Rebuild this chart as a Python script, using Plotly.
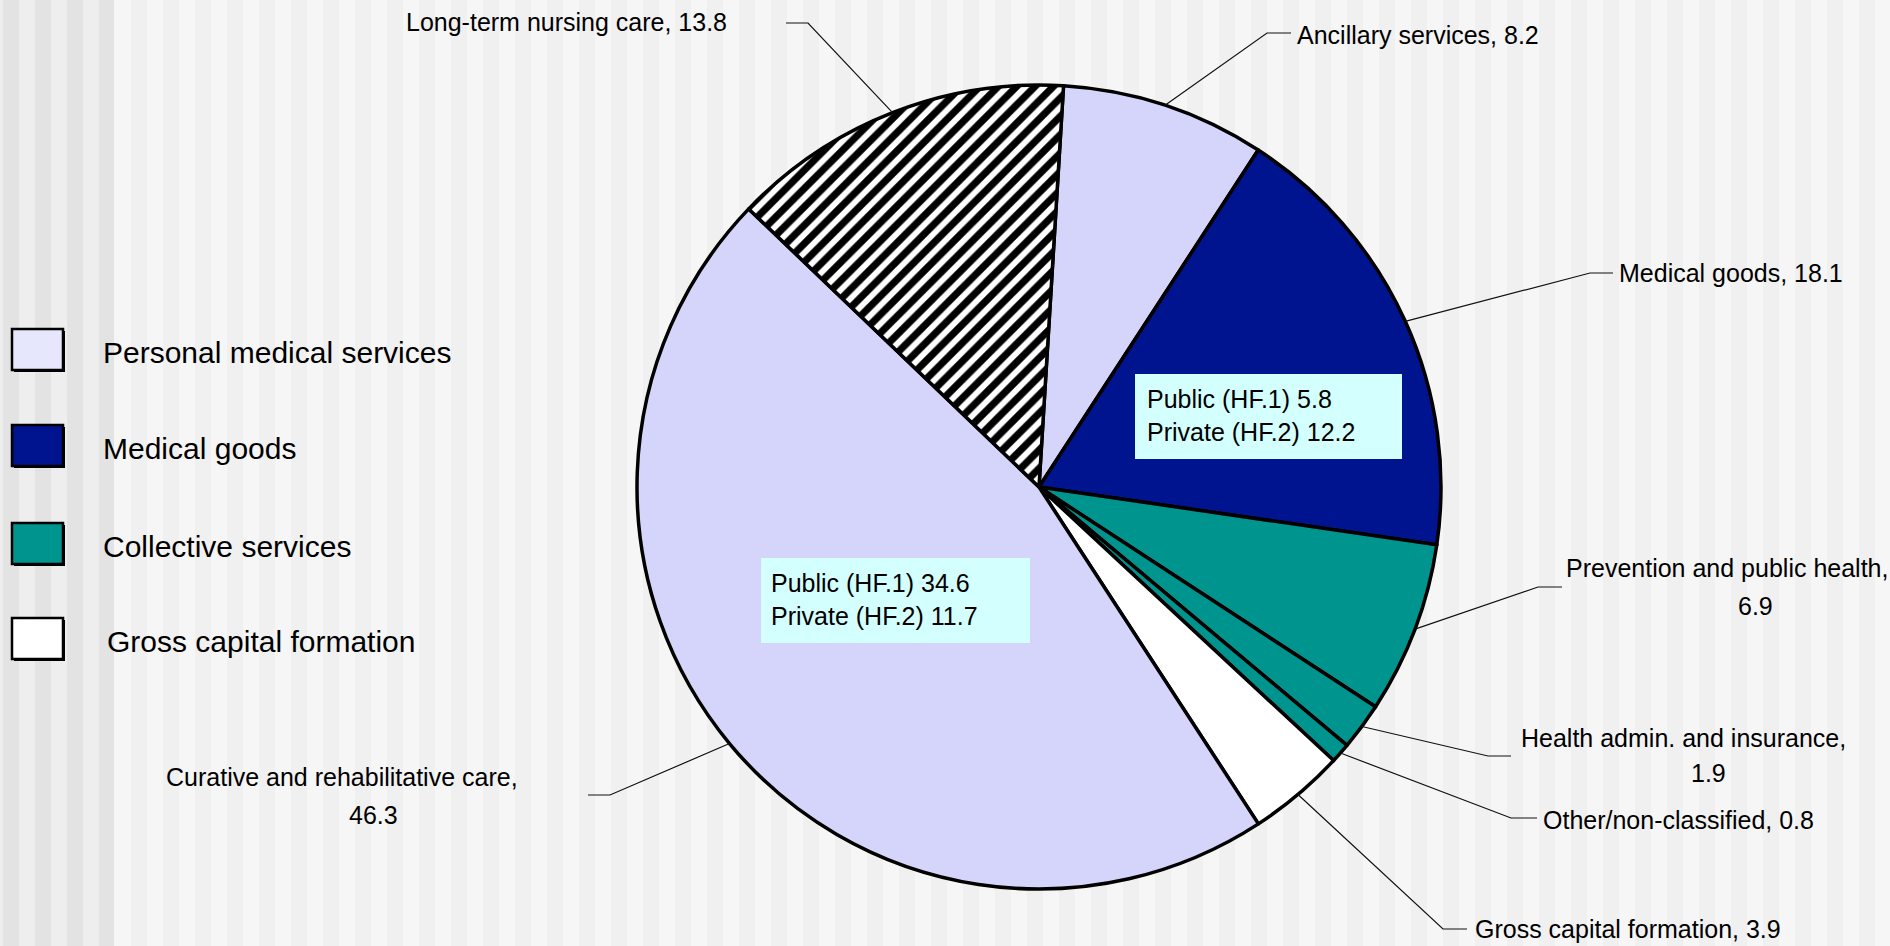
import math
import plotly.graph_objects as go

W, H = 1890, 946

# ---------------- data ----------------
categories = ["Ancillary services", "Medical goods", "Prevention and public health",
              "Health admin. and insurance", "Other/non-classified",
              "Gross capital formation", "Curative and rehabilitative care",
              "Long-term nursing care"]
values = [8.2, 18.1, 6.9, 1.9, 0.8, 3.9, 46.3, 13.8]

legend_labels = ["Personal medical services", "Medical goods",
                 "Collective services", "Gross capital formation"]

split_names = ["Public (HF.1)", "Private (HF.2)"]
medical_split = [5.8, 12.2]
curative_split = [34.6, 11.7]

# ---------------- style ----------------
LAV, NAVY, TEAL, WHITE = "#D5D5FB", "#00148F", "#00948F", "#FFFFFF"
slice_colors = [LAV, NAVY, TEAL, TEAL, TEAL, WHITE, LAV, WHITE]
slice_patterns = ["", "", "", "", "", "", "", "/"]
legend_colors = ["#E6E6FC", NAVY, TEAL, WHITE]
FONT = "Arial, Liberation Sans, sans-serif"

CX, CY, R = 1039, 487, 402     # pie centre / radius in pixels
ROT = 3.5


def px(x):
    return x / W


def py(y):
    return 1 - y / H


fig = go.Figure()
fig.add_trace(go.Pie(
    labels=categories, values=values, sort=False, direction="clockwise",
    rotation=ROT, textinfo="none", hoverinfo="label+value",
    showlegend=False,
    domain=dict(x=[px(CX - R), px(CX + R)], y=[py(CY + R), py(CY - R)]),
    marker=dict(colors=slice_colors, line=dict(color="black", width=3.5),
                pattern=dict(shape=slice_patterns, fgcolor="black",
                             bgcolor="white", size=13, solidity=0.55)),
))

shapes = []
# background stripes
shapes.append(dict(type="rect", xref="paper", yref="paper", x0=0, x1=px(114),
                   y0=0, y1=1, fillcolor="#EEEEEE", line_width=0, layer="below"))
for x0 in range(3, 114, 32):
    shapes.append(dict(type="rect", xref="paper", yref="paper", x0=px(x0),
                       x1=px(min(x0 + 16, 114)), y0=0, y1=1,
                       fillcolor="#E3E3E3", line_width=0, layer="below"))
for x0 in range(131, W, 32):
    shapes.append(dict(type="rect", xref="paper", yref="paper", x0=px(x0),
                       x1=px(min(x0 + 16, W)), y0=0, y1=1,
                       fillcolor="#F0F0F0", line_width=0, layer="below"))

annotations = []

# ---------------- outer labels with leader lines ----------------
label_layout = {
    "Ancillary services": dict(lines=[(1295, 35, "left")], h=[(1291, 33), (1267, 33)]),
    "Medical goods": dict(lines=[(1617, 273, "left")], h=[(1613, 273), (1590, 273)]),
    "Prevention and public health": dict(lines=[(1564, 568, "left"), (1755, 606, "center")],
                                         h=[(1562, 587), (1538, 587)]),
    "Health admin. and insurance": dict(lines=[(1519, 738, "left"), (1708, 773, "center")],
                                        h=[(1511, 756), (1488, 756)]),
    "Other/non-classified": dict(lines=[(1541, 820, "left")], h=[(1537, 818), (1511, 818)]),
    "Gross capital formation": dict(lines=[(1473, 929, "left")], h=[(1467, 929), (1443, 929)]),
    "Curative and rehabilitative care": dict(lines=[(342, 777, "center"), (373, 815, "center")],
                                             h=[(588, 795), (610, 795)]),
    "Long-term nursing care": dict(lines=[(404, 22, "left")], h=[(786, 23), (808, 23)]),
}

total = sum(values)
cum = 0.0
for cat, v in zip(categories, values):
    mid = math.radians(ROT + 360 * (cum + v / 2) / total)
    cum += v
    ex, ey = CX + R * math.sin(mid), CY - R * math.cos(mid)
    lay = label_layout[cat]
    (ax, ay), (bx, by) = lay["h"]
    path = "M {} {} L {} {} L {} {}".format(px(ax), py(ay), px(bx), py(by), px(ex), py(ey))
    shapes.append(dict(type="path", xref="paper", yref="paper", path=path,
                       line=dict(color="#111111", width=1.2)))
    if len(lay["lines"]) == 1:
        texts = [f"{cat}, {v}"]
    else:
        texts = [f"{cat},", f"{v}"]
    for (tx, ty, anc), t in zip(lay["lines"], texts):
        annotations.append(dict(x=px(tx), y=py(ty), xref="paper", yref="paper",
                                text=t, showarrow=False, xanchor=anc, yanchor="middle",
                                font=dict(family=FONT, size=25, color="black")))

# ---------------- inner split boxes ----------------
boxes = [
    (medical_split, (1135, 374, 1402, 459), 1145),
    (curative_split, (761, 558, 1030, 643), 769),
]
for split, (x0, y0, x1, y1), tx in boxes:
    shapes.append(dict(type="rect", xref="paper", yref="paper", x0=px(x0), x1=px(x1),
                       y0=py(y1), y1=py(y0), fillcolor="#D4FFFF", line_width=0))
    txt = "<br>".join(f"{n} {s}" for n, s in zip(split_names, split))
    annotations.append(dict(x=px(tx), y=py((y0 + y1) / 2 - 1), xref="paper", yref="paper",
                            text=txt, showarrow=False, xanchor="left", yanchor="middle",
                            align="left", font=dict(family=FONT, size=25, color="black")))

# ---------------- custom legend ----------------
leg_y = [350, 446, 544, 639]
leg_tx = [101, 101, 101, 105]
for lab, col, yc, tx in zip(legend_labels, legend_colors, leg_y, leg_tx):
    x0, x1, y0, y1 = 12, 63, yc - 21, yc + 20
    shapes.append(dict(type="rect", xref="paper", yref="paper", x0=px(x0 + 2), x1=px(x1 + 2),
                       y0=py(y1 + 2), y1=py(y0 + 2), fillcolor="black", line_width=0))
    shapes.append(dict(type="rect", xref="paper", yref="paper", x0=px(x0), x1=px(x1),
                       y0=py(y1), y1=py(y0), fillcolor=col,
                       line=dict(color="black", width=2.5)))
    annotations.append(dict(x=px(tx), y=py(yc + 2), xref="paper", yref="paper", text=lab,
                            showarrow=False, xanchor="left", yanchor="middle",
                            font=dict(family=FONT, size=30, color="black")))

fig.update_layout(
    width=W, height=H, margin=dict(l=0, r=0, t=0, b=0),
    paper_bgcolor="#F6F6F6", plot_bgcolor="#F6F6F6",
    shapes=shapes, annotations=annotations, showlegend=False,
)

fig.write_html("out.html", config={"displayModeBar": False},
               post_script="document.body.style.margin='0px';"
                           "document.body.style.overflow='hidden';")
